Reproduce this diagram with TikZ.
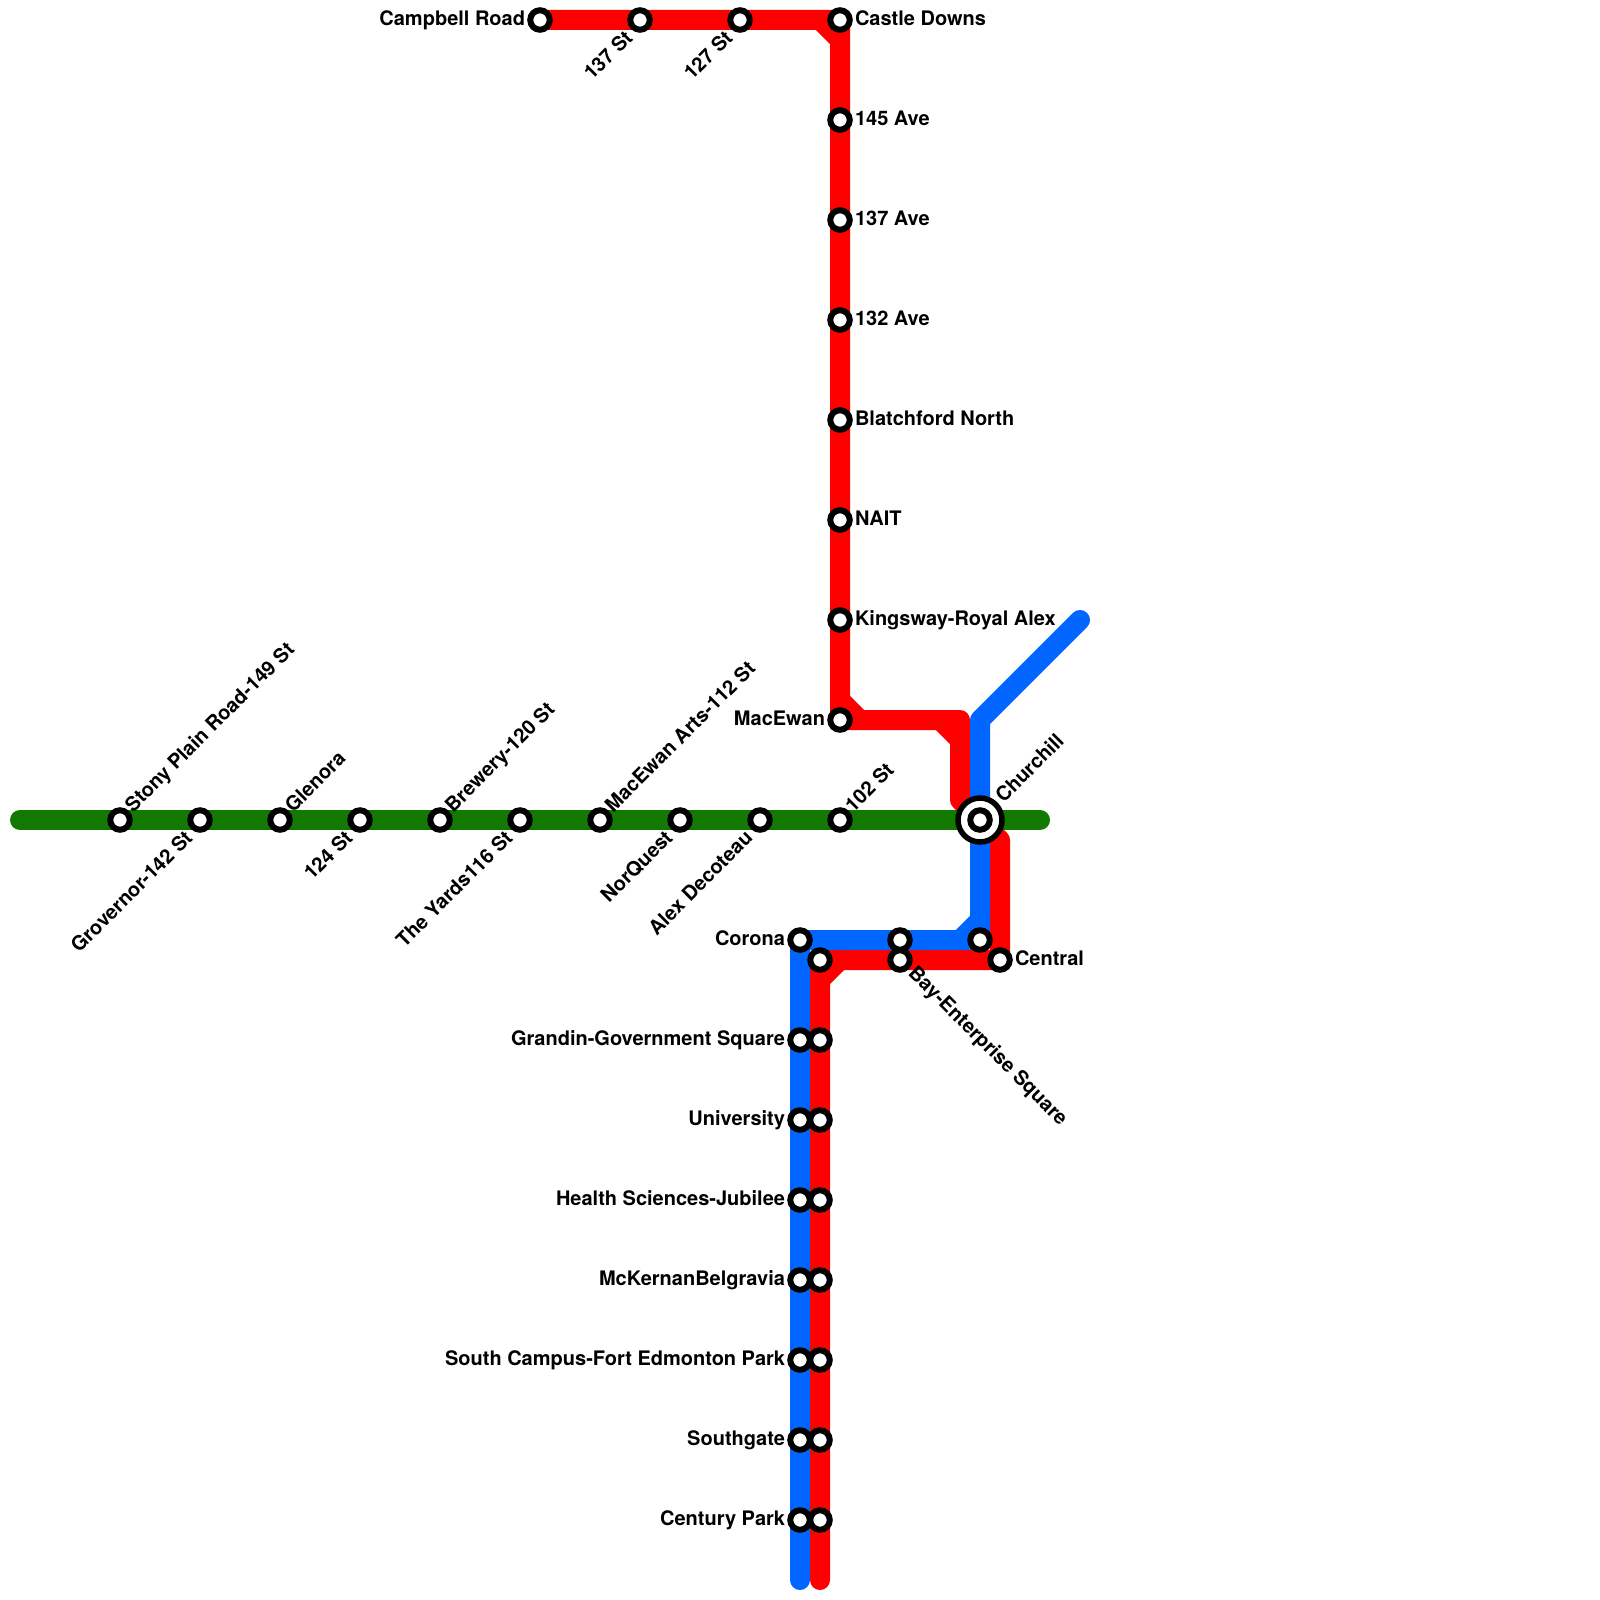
\documentclass[tikz,border=0pt]{standalone}
\usepackage{fontspec}
\setmainfont{TeX Gyre Heros}
\usetikzlibrary{backgrounds}
\definecolor{lineRed}{HTML}{FF0000}
\definecolor{lineBlue}{HTML}{0066FF}
\definecolor{lineGreen}{HTML}{127A00}
\tikzset{
  x=1pt,y=-1pt,
  stn/.style={circle,draw=black,fill=white,line width=6pt,minimum size=19.5pt,inner sep=0pt,outer sep=0pt},
  hub/.style={circle,draw=black,fill=white,line width=5.5pt,minimum size=44pt,inner sep=0pt,outer sep=0pt},
  lbl/.style={font=\fontsize{20}{24}\selectfont\bfseries,text=black,inner sep=0pt,outer sep=0pt},
  lR/.style={lbl,anchor=base west,xshift=15pt,yshift=-5.5pt},
  lL/.style={lbl,anchor=base east,xshift=-15pt,yshift=-5.5pt},
  lNE/.style={lbl,anchor=base west,rotate=45,xshift=14.1pt,yshift=-4.7pt},
  lSW/.style={lbl,anchor=base east,rotate=45,xshift=-18.1pt,yshift=-9.2pt},
  lSE/.style={lbl,anchor=base west,rotate=-45,xshift=15.3pt,yshift=-4.9pt},
  track/.style={line width=20pt,line cap=round,line join=round},
  redl/.style={track,draw=lineRed},
  bluel/.style={track,draw=lineBlue},
  greenl/.style={track,draw=lineGreen},
}
\newcommand{\St}[5]{\node[stn] (#1) at (#2,#3) {}; \node[#4] (#1-lbl) at (#1.center) {#5};}
\newcommand{\Sx}[3]{\node[stn] (#1) at (#2,#3) {};}
\begin{document}
\begin{tikzpicture}
\useasboundingbox (0,0) rectangle (1600,1600);
% green line stations
\St{stony}{120}{820}{lNE}{Stony Plain Road-149 St}
\St{grovernor}{200}{820}{lSW}{Grovernor-142 St}
\St{glenora}{280}{820}{lNE}{Glenora}
\St{s124}{360}{820}{lSW}{124 St}
\St{brewery}{440}{820}{lNE}{Brewery-120 St}
\St{yards}{520}{820}{lSW}{The Yards116 St}
\St{macarts}{600}{820}{lNE}{MacEwan Arts-112 St}
\St{norquest}{680}{820}{lSW}{NorQuest}
\St{alex}{760}{820}{lSW}{Alex Decoteau}
\St{s102}{840}{820}{lNE}{102 St}
% red north
\St{campbell}{540}{20}{lL}{Campbell Road}
\St{s137}{640}{20}{lSW}{137 St}
\St{s127}{740}{20}{lSW}{127 St}
\St{castle}{840}{20}{lR}{Castle Downs}
\St{a145}{840}{120}{lR}{145 Ave}
\St{a137}{840}{220}{lR}{137 Ave}
\St{a132}{840}{320}{lR}{132 Ave}
\St{blatch}{840}{420}{lR}{Blatchford North}
\St{nait}{840}{520}{lR}{NAIT}
\St{kings}{840}{620}{lR}{Kingsway-Royal Alex}
\St{macewan}{840}{720}{lL}{MacEwan}
% hub
\node[hub] (churchillring) at (980,820) {};
\Sx{churchill}{980}{820}
\node[lbl,anchor=base west,rotate=45,xshift=28.4pt,yshift=-5.3pt] (churchill-lbl) at (churchill.center) {Churchill};
% south
\St{corona}{800}{940}{lL}{Corona}
\Sx{redcorona}{820}{960}
\Sx{bluebay}{900}{940}
\St{bay}{900}{960}{lSE}{Bay-Enterprise Square}
\Sx{bluecentral}{980}{940}
\St{central}{1000}{960}{lR}{Central}
\St{grandin}{800}{1040}{lL}{Grandin-Government Square}
\Sx{redgrandin}{820}{1040}
\St{univ}{800}{1120}{lL}{University}
\Sx{reduniv}{820}{1120}
\St{health}{800}{1200}{lL}{Health Sciences-Jubilee}
\Sx{redhealth}{820}{1200}
\St{mck}{800}{1280}{lL}{McKernanBelgravia}
\Sx{redmck}{820}{1280}
\St{south}{800}{1360}{lL}{South Campus-Fort Edmonton Park}
\Sx{redsouth}{820}{1360}
\St{sgate}{800}{1440}{lL}{Southgate}
\Sx{redsgate}{820}{1440}
\St{century}{800}{1520}{lL}{Century Park}
\Sx{redcentury}{820}{1520}
% free ends and bends
\coordinate (gW) at (20,820);
\coordinate (gE) at (1040,820);
\coordinate (bNE) at (1080,620);
\coordinate (bTurn) at (980,720);
\coordinate (bS) at (800,1580);
\coordinate (rS) at (820,1580);
\coordinate (rA) at (960,720);
\coordinate (rB) at (960,800);
\coordinate (rC) at (1000,840);
\begin{pgfonlayer}{background}
  % red
  \draw[redl] (campbell.center) -- (castle.center) -- (macewan.center) -- (rA) -- (rB) -- (rC) -- (central.center) -- (redcorona.center) -- (rS);
  \draw[redl] (820,20) -- (840,40);
  \draw[redl] (840,700) -- (860,720);
  \draw[redl] (940,720) -- (960,740);
  \draw[redl] (840,960) -- (820,980);
  % blue
  \draw[bluel] (bNE) -- (bTurn) -- (bluecentral.center) -- (corona.center) -- (bS);
  \draw[bluel] (960,940) -- (980,920);
  % green
  \draw[greenl] (gW) -- (gE);
\end{pgfonlayer}
\end{tikzpicture}
\end{document}
